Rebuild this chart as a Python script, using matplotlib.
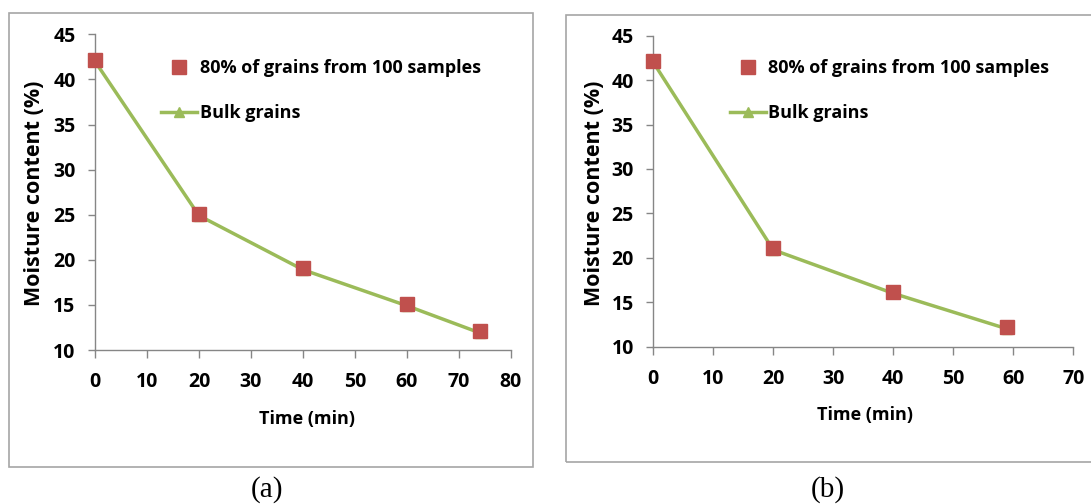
import matplotlib
matplotlib.use("Agg")
import matplotlib.pyplot as plt
from matplotlib.patches import Rectangle
from matplotlib.lines import Line2D

# ---- data ----
time_a = [0, 20, 40, 60, 74]
sample_a = [42.2, 25.1, 19.1, 15.1, 12.1]
bulk_a = [42.0, 24.9, 18.9, 14.9, 11.9]

time_b = [0, 20, 40, 59]
sample_b = [42.2, 21.1, 16.2, 12.2]
bulk_b = [42.0, 20.9, 16.0, 12.0]

xticks_a = [0, 10, 20, 30, 40, 50, 60, 70, 80]
xticks_b = [0, 10, 20, 30, 40, 50, 60, 70]
yticks = [10, 15, 20, 25, 30, 35, 40, 45]

label_sample = "80% of grains from 100 samples"
label_bulk = "Bulk grains"
xlabel = "Time (min)"
ylabel = "Moisture content (%)"

W, H = 1091, 504
fig = plt.figure(figsize=(W / 100, H / 100), dpi=100)
fig.patch.set_facecolor("white")

FONT = "Open Sans"
RED = "#C0504D"
GREEN = "#9BBB59"
AXC = "#868686"


def fx(px):
    return px / W


def fy(py):
    return 1 - py / H


def make_panel(left, right, top, bottom, xmax, xt, t, s, b,
               ylab_x, ylab_y, xlab_x, xlab_y, leg_x, leg_y, tag, tag_x):
    ax = fig.add_axes([fx(left), fy(bottom), fx(right - left), (bottom - top) / H])
    ax.plot(t, b, color=GREEN, lw=2.5, marker="^", markersize=7,
            markerfacecolor=GREEN, markeredgecolor=GREEN, zorder=2, clip_on=False)
    ax.plot(t, s, linestyle="none", marker="s", markersize=10,
            markerfacecolor=RED, markeredgecolor=RED, zorder=3, clip_on=False)
    ax.set_xlim(0, xmax)
    ax.set_ylim(10, 45)
    ax.set_xticks(xt)
    ax.set_yticks(yticks)
    for sp in ("top", "right"):
        ax.spines[sp].set_visible(False)
    for sp in ("left", "bottom"):
        ax.spines[sp].set_color(AXC)
        ax.spines[sp].set_linewidth(1.0)
    ax.tick_params(axis="y", direction="out", length=5, width=1, color=AXC, pad=9)
    ax.tick_params(axis="x", direction="out", length=6, width=1, color=AXC, pad=10)
    for lab in ax.get_xticklabels() + ax.get_yticklabels():
        lab.set_fontfamily(FONT)
        lab.set_fontweight("bold")
        lab.set_fontsize(14)
    ax.set_xlabel(xlabel, fontfamily=FONT, fontweight="bold", fontsize=13)
    ax.set_ylabel(ylabel, fontfamily=FONT, fontweight="bold", fontsize=15.5)
    ax.xaxis.label.set(va="center", ha="center")
    ax.yaxis.label.set(va="center", ha="center", rotation_mode="default")
    ax.xaxis.set_label_coords((xlab_x - left) / (right - left),
                              (bottom - xlab_y) / (bottom - top))
    ax.yaxis.set_label_coords((ylab_x - left) / (right - left),
                              (bottom - ylab_y) / (bottom - top))
    ax.patch.set_alpha(0)

    handles = [
        Line2D([], [], linestyle="none", marker="s", markersize=10,
               markerfacecolor=RED, markeredgecolor=RED),
        Line2D([], [], color=GREEN, lw=2.5, marker="^", markersize=7,
               markerfacecolor=GREEN, markeredgecolor=GREEN),
    ]
    fig.legend(handles, [label_sample, label_bulk], loc="upper left",
               bbox_to_anchor=(fx(leg_x), fy(leg_y)), bbox_transform=fig.transFigure,
               frameon=False, borderpad=0, borderaxespad=0,
               handlelength=2.0, handletextpad=0.15, labelspacing=1.5,
               prop={"family": FONT, "weight": "bold", "size": 13})
    fig.text(fx(tag_x), fy(490), tag, fontfamily="Liberation Serif",
             fontsize=21, ha="center", va="center")
    return ax


make_panel(95, 511, 34.3, 350, 80, xticks_a, time_a, sample_a, bulk_a,
           35, 193, 307, 419, 161, 59, "(a)", 267)
make_panel(653.3, 1073.3, 35.7, 346.7, 70, xticks_b, time_b, sample_b, bulk_b,
           595, 193, 865, 415, 729.5, 59, "(b)", 828)

# panel frames
fig.add_artist(Rectangle((fx(9), fy(466.7)), fx(533.3 - 9), (466.7 - 13.3) / H,
                         transform=fig.transFigure, fill=False,
                         edgecolor="#A6A6A6", lw=1.2))
fig.add_artist(Rectangle((fx(566), fy(461.7)), fx(1095 - 566), (461.7 - 14.7) / H,
                         transform=fig.transFigure, fill=False,
                         edgecolor="#A6A6A6", lw=1.2))

fig.savefig("out.png", dpi=100, facecolor="white")
